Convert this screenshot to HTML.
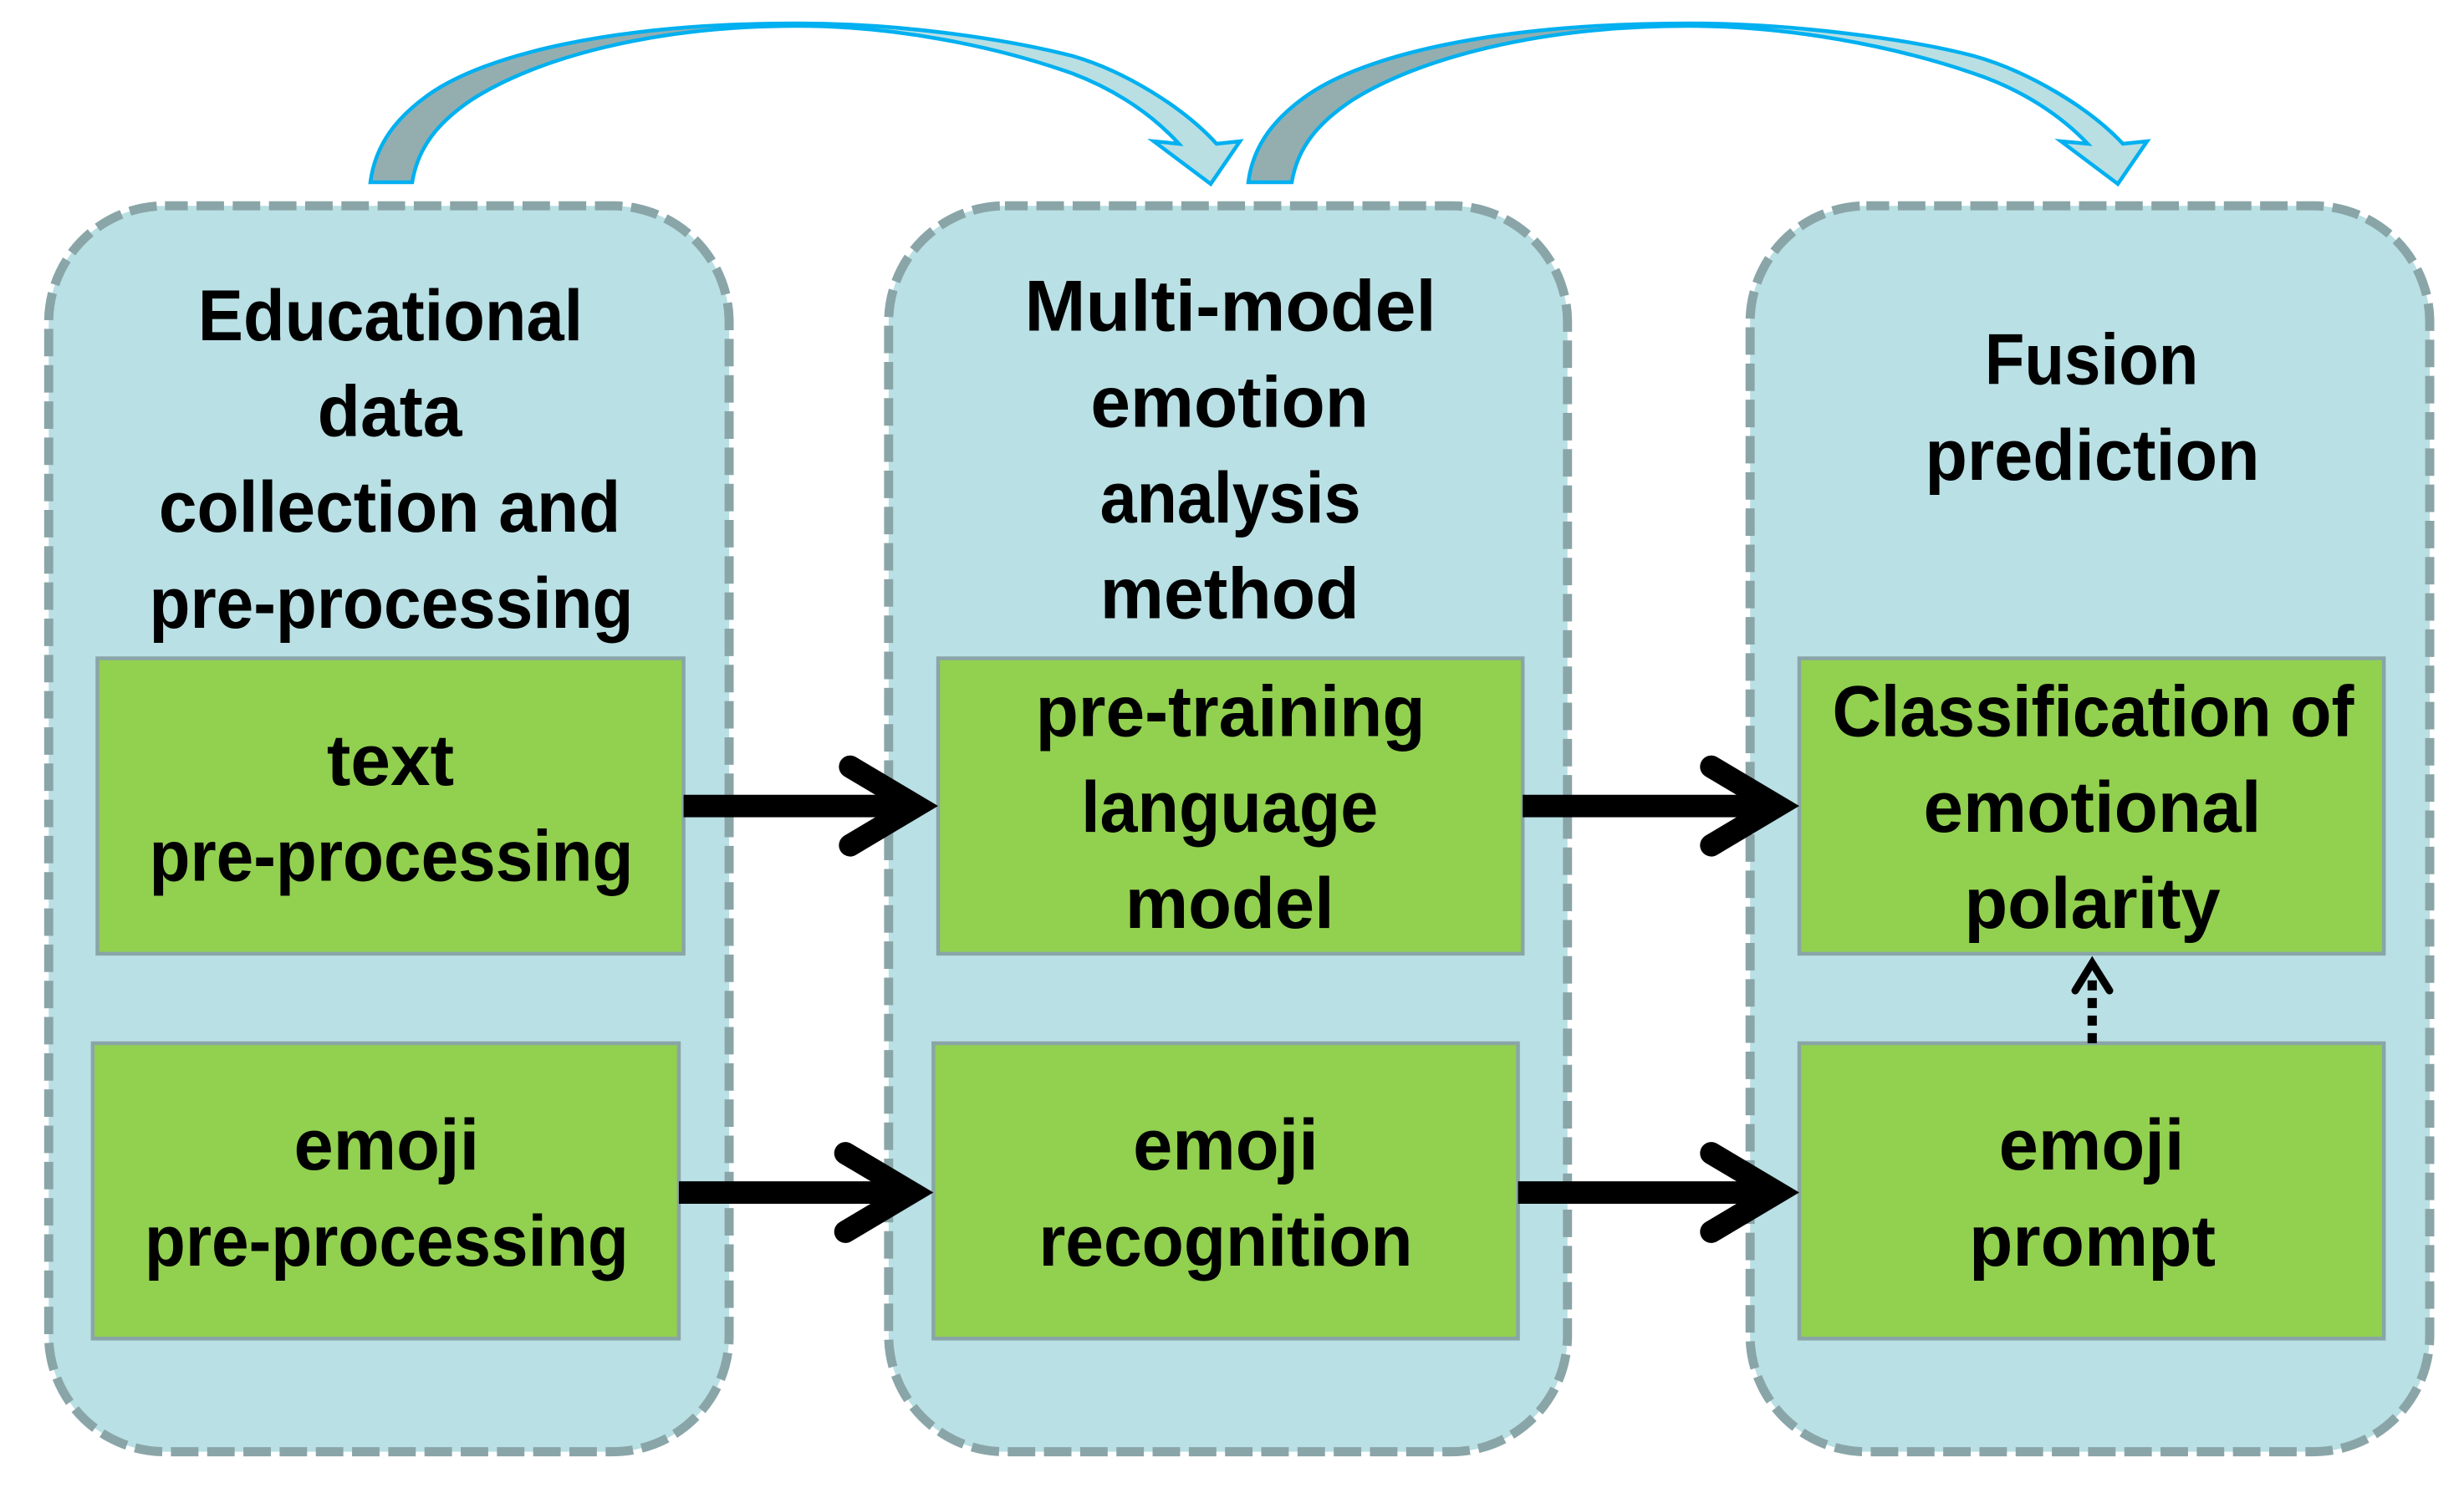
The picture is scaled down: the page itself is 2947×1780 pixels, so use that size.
<!DOCTYPE html>
<html>
<head>
<meta charset="utf-8">
<style>
html,body{margin:0;padding:0;background:#fff;width:2947px;height:1780px;overflow:hidden}
svg{display:block}
text{font-family:"Liberation Sans",sans-serif;font-weight:bold;font-size:46px;fill:#000}
</style>
</head>
<body>
<svg width="2947" height="1780" viewBox="0 0 2947 1780" xmlns="http://www.w3.org/2000/svg">
<defs>
<linearGradient id="g1" gradientUnits="userSpaceOnUse" x1="443" y1="0" x2="1483" y2="0">
<stop offset="0" stop-color="#94aeb0"/><stop offset="0.4" stop-color="#94aeb0"/><stop offset="0.52" stop-color="#b9dfe3"/><stop offset="1" stop-color="#b9dfe3"/>
</linearGradient>
<linearGradient id="g2" gradientUnits="userSpaceOnUse" x1="1493" y1="0" x2="2568" y2="0">
<stop offset="0" stop-color="#94aeb0"/><stop offset="0.4" stop-color="#94aeb0"/><stop offset="0.52" stop-color="#b9dfe3"/><stop offset="1" stop-color="#b9dfe3"/>
</linearGradient>
</defs>

<!-- curved arrows (pixel coordinates) -->
<g stroke="#00b0f0" stroke-width="4.5" stroke-linejoin="miter">
<path fill="url(#g1)" d="M443,218 C449,172 475,140 513,113 C580,66 730,28 954,28 C1080,28 1205,47 1283,67 C1345,85 1415,128 1455,172 L1483,169 L1448,220 L1380,169 L1410,172 C1370,128 1320,102 1283,88 C1190,55 1070,31 954,31 C780,31 640,70 563,120 C525,146 500,175 493,218 Z"/>
<path fill="url(#g2)" d="M1493,218 C1499,172 1526,140 1565,113 C1634,66 1788,28 2020,28 C2145,28 2285,47 2361,67 C2425,85 2498,128 2539,172 L2568,169 L2533,220 L2465,169 L2497,172 C2455,128 2403,102 2361,88 C2265,55 2140,31 2020,31 C1840,31 1696,70 1617,120 C1578,146 1552,175 1545,218 Z"/>
</g>

<g transform="scale(1.87946)">
<!-- panels -->
<g fill="#b9e0e4" stroke="#8aa5a8" stroke-width="5.8" stroke-dasharray="17.5 5.55" stroke-dashoffset="3">
<rect x="31" y="131" width="433" height="793" rx="74" ry="74"/>
<rect x="565.5" y="131" width="432" height="793" rx="74" ry="74"/>
<rect x="1113.7" y="131" width="432.5" height="793" rx="74" ry="74"/>
</g>

<!-- green boxes -->
<g fill="#92d050" stroke="#8aa5a8" stroke-width="2.4">
<rect x="62" y="419" width="373" height="188"/>
<rect x="59" y="664" width="373" height="188"/>
<rect x="597" y="419" width="372" height="188"/>
<rect x="594" y="664" width="372" height="188"/>
<rect x="1145" y="419" width="372" height="188"/>
<rect x="1145" y="664" width="372" height="188"/>
</g>

<!-- black arrows -->
<g fill="none" stroke="#000" stroke-width="14.3" stroke-linecap="round" stroke-linejoin="miter" stroke-miterlimit="8">
<path d="M435,513 H583" stroke-linecap="butt"/><path d="M541,488 L583,513 L541,538"/>
<path d="M432,759 H580" stroke-linecap="butt"/><path d="M538,734 L580,759 L538,784"/>
<path d="M969,513 H1131" stroke-linecap="butt"/><path d="M1089,488 L1131,513 L1089,538"/>
<path d="M966,759 H1131" stroke-linecap="butt"/><path d="M1089,734 L1131,759 L1089,784"/>
</g>
<path d="M1331.4,664 V622" fill="none" stroke="#000" stroke-width="5.9" stroke-dasharray="6.4 4.8"/>
<path d="M1320.6,630.5 L1331.4,613 L1342.4,630.5" fill="none" stroke="#000" stroke-width="4.8" stroke-linecap="round"/>

<!-- text -->
<g transform="translate(0,-1.5)">
<text x="126" y="218" textLength="245" lengthAdjust="spacingAndGlyphs">Educational</text>
<text x="202" y="279" textLength="92" lengthAdjust="spacingAndGlyphs">data</text>
<text x="101" y="340" textLength="294" lengthAdjust="spacingAndGlyphs">collection and</text>
<text x="95" y="401" textLength="308" lengthAdjust="spacingAndGlyphs">pre-processing</text>

<text x="652" y="212" textLength="262" lengthAdjust="spacingAndGlyphs">Multi-model</text>
<text x="694" y="273" textLength="177" lengthAdjust="spacingAndGlyphs">emotion</text>
<text x="700" y="334" textLength="166" lengthAdjust="spacingAndGlyphs">analysis</text>
<text x="700" y="395" textLength="165" lengthAdjust="spacingAndGlyphs">method</text>

<text x="1263" y="246" textLength="136" lengthAdjust="spacingAndGlyphs">Fusion</text>
<text x="1225" y="307" textLength="213" lengthAdjust="spacingAndGlyphs">prediction</text>

<text x="208" y="501" textLength="81" lengthAdjust="spacingAndGlyphs">text</text>
<text x="95" y="562" textLength="308" lengthAdjust="spacingAndGlyphs">pre-processing</text>

<text x="187" y="746" textLength="118" lengthAdjust="spacingAndGlyphs">emoji</text>
<text x="92" y="807" textLength="308" lengthAdjust="spacingAndGlyphs">pre-processing</text>

<text x="659" y="470" textLength="248" lengthAdjust="spacingAndGlyphs">pre-training</text>
<text x="688" y="531" textLength="189" lengthAdjust="spacingAndGlyphs">language</text>
<text x="716" y="592" textLength="133" lengthAdjust="spacingAndGlyphs">model</text>

<text x="721" y="746" textLength="118" lengthAdjust="spacingAndGlyphs">emoji</text>
<text x="661" y="807" textLength="238" lengthAdjust="spacingAndGlyphs">recognition</text>

<text x="1166" y="470" textLength="332" lengthAdjust="spacingAndGlyphs">Classification of</text>
<text x="1224" y="531" textLength="215" lengthAdjust="spacingAndGlyphs">emotional</text>
<text x="1250" y="592" textLength="163" lengthAdjust="spacingAndGlyphs">polarity</text>

<text x="1272" y="746" textLength="118" lengthAdjust="spacingAndGlyphs">emoji</text>
<text x="1253" y="807" textLength="157" lengthAdjust="spacingAndGlyphs">prompt</text>
</g>
</g>
</svg>
</body>
</html>
